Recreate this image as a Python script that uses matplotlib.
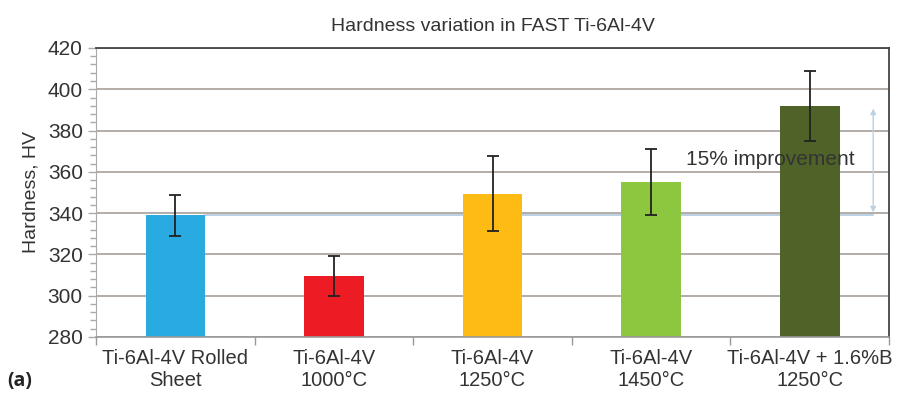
import numpy as np
import matplotlib.pyplot as plt
from matplotlib.ticker import MultipleLocator

# Hardness data
categories = ["Ti-6Al-4V Rolled\nSheet", "Ti-6Al-4V\n1000°C", "Ti-6Al-4V\n1250°C",
              "Ti-6Al-4V\n1450°C", "Ti-6Al-4V + 1.6%B\n1250°C"]
hardness = [339, 309.5, 349.5, 355, 392]
errors = [10, 9.5, 18, 16, 17]
bar_colors = ["#29ABE2", "#ED1C24", "#FDBB13", "#8DC63F", "#4F6228"]

plt.rcParams['font.family'] = ['Liberation Sans', 'DejaVu Sans']

fig = plt.figure(figsize=(9.1, 4.03), dpi=100)
ax = fig.add_axes([0.1055, 0.1638, 0.8715, 0.7172])

x = np.arange(len(categories))
ax.bar(x, hardness, width=0.375, color=bar_colors, zorder=2)
ax.errorbar(x, hardness, yerr=errors, fmt='none', ecolor='#222222',
            elinewidth=1.3, capsize=4, capthick=1.3, zorder=3)

# improvement marker: baseline line + double arrow
base = hardness[0]
top = hardness[-1]
ax.plot([0.19, 4.4], [base, base], color='#A8C4DC', lw=1.1, zorder=1.5)
ax.annotate('', xy=(4.4, top), xytext=(4.4, base),
            arrowprops=dict(arrowstyle='<|-|>', color='#BCD0E4', lw=1.0,
                            mutation_scale=8), zorder=4)
ax.text(3.75, 366, "15% improvement", fontsize=15, color='#333333',
        ha='center', va='center', zorder=5)

ax.set_xlim(-0.5, 4.5)
ax.set_ylim(280, 420)
ax.yaxis.set_major_locator(MultipleLocator(20))
ax.yaxis.set_minor_locator(MultipleLocator(4))
ax.grid(axis='y', color='#A89E98', lw=1.2, zorder=1)
ax.set_axisbelow(True)

ax.set_xticks(x)
ax.set_xticklabels(categories, fontsize=14.5, color='#333333', linespacing=1.2)
ax.tick_params(axis='x', length=0, pad=9)
ax.set_xticks(np.arange(-0.5, 4.6, 1), minor=True)
ax.tick_params(axis='x', which='minor', length=6, color='#999999', width=1)
ax.tick_params(axis='y', which='major', labelsize=15, labelcolor='#333333',
               length=6, color='#AAAAAA', width=1)
ax.tick_params(axis='y', which='minor', length=4, color='#AAAAAA', width=1)

for s in ['top', 'right']:
    ax.spines[s].set_color('#444444')
    ax.spines[s].set_linewidth(1.3)
ax.spines['left'].set_color('#AAAAAA')
ax.spines['bottom'].set_color('#999999')
ax.spines['bottom'].set_linewidth(1.2)

ax.set_ylabel("Hardness, HV", fontsize=14, color='#333333', labelpad=6)
ax.set_title("Hardness variation in FAST Ti-6Al-4V", fontsize=14, color='#333333', pad=12)

fig.text(0.008, 0.042, "(a)", fontsize=14, fontweight='bold',
         family=['Open Sans', 'DejaVu Sans'], color='#222222')

fig.savefig("out.png", dpi=100)
